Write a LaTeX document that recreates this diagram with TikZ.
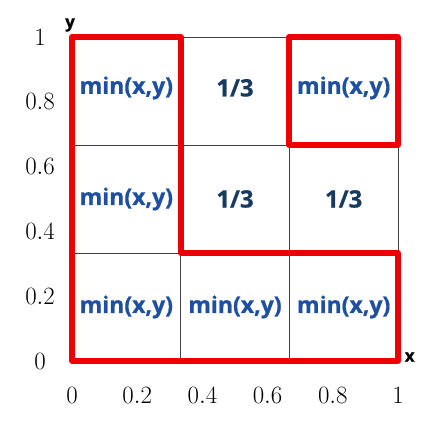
\documentclass[tikz,border=0pt]{standalone}
\usepackage{fontspec}
\newfontfamily\cellfont[BoldFeatures={FakeBold=0.6}]{Open Sans}
\usepackage{tikz}
\usetikzlibrary{positioning, calc}
\definecolor{minblue}{HTML}{1F4FA0}
\definecolor{navy}{HTML}{183A5E}
\definecolor{outline}{HTML}{EE0000}
\tikzset {
    cellmin/.style = {
        text = minblue,
        font = \cellfont\bfseries\fontsize{23}{26}\selectfont
    },
    cellthird/.style = {
        text = navy,
        font = \cellfont\bfseries\fontsize{24}{27}\selectfont
    },
    tick/.style = {
        font = \fontsize{25.5}{29}\selectfont
    },
    axis/.style = {
        font = \cellfont\bfseries\fontsize{17}{20}\selectfont
    },
    region/.style = {
        draw = outline,
        line width=5.8pt,
        line join=round,
        line cap=round
    },
    cellline/.style = {
        draw = black!75,
        line width=0.7pt
    }
}
\begin{document}
\begin{tikzpicture}[x=326pt, y=324pt]
        \useasboundingbox (-0.2209, -0.1944) rectangle (1.1135, 1.1142);

        % Grid : thin lines between the cells
        \foreach \k in {0, 1, 2, 3} {
            \path [cellline] (\k/3, 0) -- (\k/3, 1);
            \path [cellline] (0, \k/3) -- (1, \k/3);
        }

        % Cell texts, row by row from the top
        \node [cellmin]   at (1/6, 0.843) (c11) {min(x,y)};
        \node [cellthird] at (1/2, 0.843) (c12) {1/3};
        \node [cellmin]   at (5/6, 0.843) (c13) {min(x,y)};
        \node [cellmin]   at (1/6, 1/2)   (c21) {min(x,y)};
        \node [cellthird] at (1/2, 1/2)   (c22) {1/3};
        \node [cellthird] at (5/6, 1/2)   (c23) {1/3};
        \node [cellmin]   at (1/6, 1/6)   (c31) {min(x,y)};
        \node [cellmin]   at (1/2, 1/6)   (c32) {min(x,y)};
        \node [cellmin]   at (5/6, 1/6)   (c33) {min(x,y)};

        % Tick labels
        \foreach \t/\lab in {0/0, 0.2/0.2, 0.4/0.4, 0.6/0.6, 0.8/0.8, 1/1} {
            \node [tick] at (\t, -0.105) (xt\lab) {$\lab$};
            \node [tick] at (-0.098, \t) (yt\lab) {$\lab$};
        }

        % Axis names
        \node [axis] at (-0.006, 1.037) (ylabel) {y};
        \node [axis] at (1.036, 0.012)  (xlabel) {x};

        % Red outlines : L shape and top right cell
        \path [region] (0, 0) -- (0, 1) -- (1/3, 1) -- (1/3, 1/3)
                       -- (1, 1/3) -- (1, 0) -- cycle;
        \path [region] (2/3, 1) -- (1, 1) -- (1, 2/3) -- (2/3, 2/3) -- cycle;
\end{tikzpicture}
\end{document}
